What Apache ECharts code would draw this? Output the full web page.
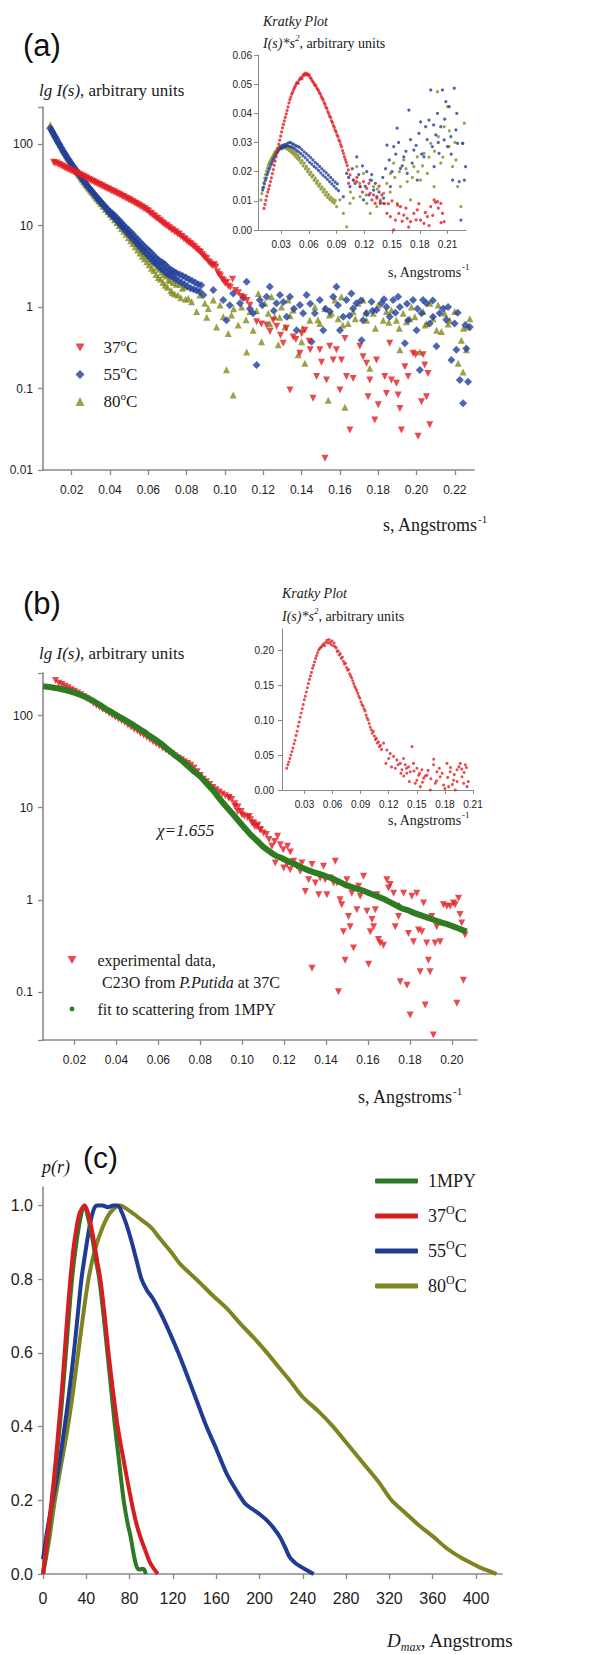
<!DOCTYPE html>
<html>
<head>
<meta charset="utf-8">
<script src="https://cdn.jsdelivr.net/npm/echarts@6/dist/echarts.min.js"></script>
<style>
  html, body { margin: 0; padding: 0; background: #fff; }
  #chart { width: 614px; height: 1654px; }
</style>
</head>
<body>
<div id="chart"></div>
<script>
// ---------- panel (a), main: lg I(s) vs s ----------
const a37 = [
  [0.0105,60],[0.0113,58],[0.0121,58.5],[0.0129,56.5],[0.0137,56],[0.0145,54],[0.0153,53.5],[0.0161,51.5],[0.0169,51],[0.0177,49.5],
  [0.0185,49],[0.0193,47.5],[0.0201,46.8],[0.0209,45.6],[0.0217,45],[0.0225,44],[0.0233,43.2],[0.0241,42],[0.0249,41.5],[0.0257,40.2],
  [0.0265,39.8],[0.0273,38.4],[0.0281,38],[0.0289,36.8],[0.0297,36.2],[0.0305,35.2],[0.0313,34.8],[0.0321,33.6],[0.0329,33.2],[0.0337,32.2],
  [0.0345,31.8],[0.0353,30.8],[0.0361,30.6],[0.0369,29.6],[0.0377,29.2],[0.0385,28.2],[0.0393,28],[0.0401,27.1],[0.0409,26.8],[0.0417,26],
  [0.0425,25.8],[0.0433,24.9],[0.0441,24.6],[0.0449,23.8],[0.0457,23.5],[0.0465,22.8],[0.0473,22.6],[0.0481,21.8],[0.0489,21.5],[0.0497,20.8],
  [0.0505,20.6],[0.0513,19.9],[0.0521,19.6],[0.0529,18.9],[0.0537,18.7],[0.0545,18],[0.0553,17.8],[0.0561,17],[0.0569,16.9],[0.0577,16.2],
  [0.0585,16],[0.0593,15.3],[0.0601,15],[0.0609,14.2],[0.0617,14],[0.0625,13.3],[0.0633,13],[0.0641,12.4],[0.0649,12.2],[0.0657,11.6],
  [0.0665,11.4],[0.0673,10.8],[0.0681,10.6],[0.0689,10.1],[0.0697,10],[0.0705,9.5],[0.0713,9.3],[0.0721,8.9],[0.0729,8.8],[0.0737,8.4],
  [0.0745,8.3],[0.0753,7.9],[0.0761,7.8],[0.0769,7.4],[0.0777,7.3],[0.0785,6.9],[0.0793,6.8],[0.0801,6.4],[0.0809,6.3],[0.0817,6.0],
  [0.0825,5.9],[0.0833,5.6],[0.0841,5.5],[0.0849,5.2],[0.0857,5.1],[0.0865,4.8],[0.0873,4.7],[0.0881,4.4],[0.0889,4.2],[0.0897,4.0],
  [0.0905,3.9],[0.0913,3.6],[0.0921,3.5],[0.0929,3.3],[0.0937,3.2],[0.0945,3.3],[0.0953,3.1],[0.0961,2.7],[0.0969,2.5],[0.0977,2.4],
  [0.0985,2.2],[0.0993,2.1],[0.1001,1.95],[0.1009,2.0],[0.1017,1.8],[0.1028,1.75],[0.104,2.2],[0.1055,1.6],[0.107,1.5],[0.1085,1.35],
  [0.110,1.3],[0.1115,1.2],[0.113,1.05],[0.1165,0.66],[0.119,0.62],[0.1217,0.6],[0.1235,0.5],[0.1252,0.69],[0.127,0.58],[0.129,0.45],
  [0.1304,0.36],[0.132,0.55],[0.1339,0.096],[0.1356,0.43],[0.137,0.4],[0.1391,0.27],[0.140,0.47],[0.1417,0.52],[0.144,0.38],[0.1445,0.3],
  [0.146,0.076],[0.1478,0.14],[0.1495,0.3],[0.1504,0.21],[0.1522,0.0139],[0.153,0.127],[0.1547,0.33],[0.1565,0.224],[0.1582,0.3],[0.16,0.096],
  [0.1608,0.224],[0.1626,0.41],[0.1634,0.14],[0.1652,0.031],[0.1669,0.133],[0.1704,0.33],[0.1721,0.246],[0.1739,0.204],[0.1747,0.079],[0.1756,0.127],
  [0.1782,0.041],[0.1791,0.224],[0.18,0.063],[0.1834,0.14],[0.1843,0.087],[0.186,0.36],[0.1869,0.127],[0.1895,0.116],[0.1904,0.083],[0.1913,0.057],
  [0.1921,0.031],[0.1939,0.185],[0.1956,0.14],[0.1982,0.27],[0.1995,0.26],[0.2008,0.026],[0.2026,0.069],[0.2034,0.26],[0.2043,0.194],[0.2052,0.079],
  [0.206,0.153],[0.2069,0.036]
];
const a55 = [
  [0.0088,156],[0.0094,148],[0.0100,140],[0.0106,131],[0.0112,124],[0.0118,117],[0.0124,110],[0.0130,104],[0.0136,99],[0.0142,93],
  [0.0148,88],[0.0154,83],[0.0160,79],[0.0166,75],[0.0172,71],[0.0178,67],[0.0184,64],[0.0190,61],[0.0196,58],[0.0202,55.5],
  [0.0208,53],[0.0214,51],[0.0220,48.5],[0.0226,46],[0.0232,44],[0.0238,42],[0.0244,40.5],[0.0250,38.5],[0.0256,37],[0.0262,35.5],
  [0.0268,34],[0.0274,32.5],[0.0280,31.2],[0.0286,30],[0.0292,28.6],[0.0298,27.6],[0.0304,26.5],[0.0310,25.4],[0.0316,24.5],[0.0322,23.5],
  [0.0328,22.7],[0.0334,21.7],[0.0340,21.2],[0.0346,20],[0.0352,19.6],[0.0358,18.5],[0.0364,18.3],[0.0370,17.2],[0.0376,17],[0.0382,15.8],
  [0.0388,15.9],[0.0394,14.6],[0.0400,14.9],[0.0406,13.6],[0.0412,14.1],[0.0418,12.8],[0.0424,13.3],[0.0430,11.9],[0.0436,12.4],[0.0442,11.2],
  [0.0448,11.6],[0.0454,10.2],[0.0460,10.8],[0.0466,9.5],[0.0472,10.1],[0.0478,8.8],[0.0484,9.4],[0.0490,8.2],[0.0496,8.9],[0.0502,7.6],
  [0.0508,8.3],[0.0514,7.1],[0.0520,7.8],[0.0526,6.6],[0.0532,7.2],[0.0538,6.1],[0.0544,6.8],[0.0550,5.7],[0.0556,6.3],[0.0562,5.3],
  [0.0568,5.9],[0.0574,4.9],[0.0580,5.5],[0.0586,4.6],[0.0592,5.2],[0.0598,4.3],[0.0604,4.9],[0.0610,4.0],[0.0616,4.6],[0.0622,3.7],
  [0.0628,4.3],[0.0634,3.5],[0.0640,4.0],[0.0646,3.3],[0.0652,3.8],[0.0658,3.1],[0.0664,3.6],[0.0670,2.9],[0.0676,3.5],[0.0682,2.8],
  [0.0688,3.3],[0.0694,2.6],[0.0700,3.1],[0.0706,2.5],[0.0712,2.9],[0.0718,2.4],[0.0724,2.8],[0.0730,2.3],[0.0736,2.7],[0.0742,2.2],
  [0.0748,2.6],[0.0756,2.1],[0.0764,2.5],[0.0772,2.0],[0.0780,2.4],[0.0788,1.9],[0.0796,2.3],[0.0804,1.8],[0.0812,2.2],[0.0820,1.7],
  [0.0828,2.1],[0.0836,1.65],[0.0844,2.0],[0.0852,1.6],[0.0860,1.9],[0.0868,1.55],[0.0876,1.85],
  [0.0887,1.40],[0.0939,1.62],[0.0991,1.22],[0.1008,0.69],[0.1025,1.05],[0.1043,1.47],[0.1078,1.11],[0.1095,1.3],[0.1113,2.05],[0.113,0.95],
  [0.1147,0.84],[0.1165,0.194],[0.1182,1.22],[0.1195,1.05],[0.1217,1.34],[0.1234,1.77],[0.1255,0.9],[0.1269,1.11],[0.1287,1.40],[0.1305,1.15],
  [0.1322,0.76],[0.1339,1.34],[0.136,0.95],[0.1374,0.52],[0.1391,1.06],[0.1408,0.84],[0.1426,1.40],[0.1445,1.1],[0.1452,0.376],[0.1469,0.84],
  [0.1495,1.22],[0.1513,0.52],[0.1525,0.95],[0.1547,0.88],[0.1565,1.34],[0.1582,1.77],[0.159,1.05],[0.16,0.52],[0.1617,0.76],[0.1634,1.22],
  [0.165,0.78],[0.166,1.47],[0.1669,0.96],[0.1686,1.11],[0.171,1.2],[0.1713,0.39],[0.1721,0.69],[0.1739,0.84],[0.1765,1.16],[0.177,0.9],
  [0.1791,0.92],[0.1817,1.11],[0.183,1.25],[0.1843,1.0],[0.186,0.76],[0.1878,1.22],[0.189,0.85],[0.1904,1.34],[0.1913,1.0],[0.1939,0.36],
  [0.195,1.1],[0.1956,0.69],[0.1982,1.22],[0.2,0.52],[0.2005,0.95],[0.2017,0.169],[0.2026,0.84],[0.2034,1.22],[0.2052,1.11],[0.2069,0.63],
  [0.2085,1.2],[0.2086,0.76],[0.2104,0.33],[0.2121,0.84],[0.2139,0.96],[0.2155,0.7],[0.2165,1.0],[0.2182,0.224],[0.2199,0.63],[0.2208,0.3],
  [0.2215,0.85],[0.2226,0.127],[0.2243,0.066],[0.2255,0.6],[0.226,0.31],[0.2269,0.121],[0.2278,0.57]
];
const a80 = [
  [0.0088,172],[0.0094,160],[0.0100,150],[0.0106,141],[0.0112,132],[0.0118,124],[0.0124,117],[0.0130,110],[0.0136,104],[0.0142,98],
  [0.0148,92],[0.0154,87],[0.0160,81],[0.0166,77],[0.0172,73],[0.0178,69],[0.0184,65],[0.0190,62],[0.0196,59],[0.0202,56],
  [0.0208,53],[0.0214,50.5],[0.0220,48.5],[0.0226,46],[0.0232,44],[0.0238,42],[0.0244,40.5],[0.0250,38],[0.0256,36.5],[0.0262,35],
  [0.0268,33.5],[0.0274,32],[0.0280,30.8],[0.0286,29.5],[0.0292,28.3],[0.0298,27.2],[0.0304,26],[0.0310,25],[0.0316,23.8],[0.0322,23],
  [0.0328,22],[0.0334,21.3],[0.0340,20.3],[0.0346,19.8],[0.0352,18.8],[0.0358,18.5],[0.0364,17.4],[0.0370,17.2],[0.0376,16],[0.0382,16],
  [0.0388,14.8],[0.0394,14.9],[0.0400,13.8],[0.0406,14],[0.0412,12.8],[0.0418,13],[0.0424,11.8],[0.0430,12.1],[0.0436,10.9],[0.0442,11.2],
  [0.0448,10],[0.0454,10.4],[0.0460,9.2],[0.0466,9.7],[0.0472,8.5],[0.0478,9.0],[0.0484,7.8],[0.0490,8.3],[0.0496,7.1],[0.0502,7.7],
  [0.0508,6.5],[0.0514,7.0],[0.0520,6.0],[0.0526,6.5],[0.0532,5.5],[0.0538,6.0],[0.0544,5.0],[0.0550,5.6],[0.0556,4.6],[0.0562,5.2],
  [0.0568,4.2],[0.0574,4.8],[0.0580,3.9],[0.0586,4.5],[0.0592,3.6],[0.0598,4.2],[0.0604,3.3],[0.0610,3.9],[0.0616,3.0],[0.0622,3.6],
  [0.0628,2.8],[0.0634,3.4],[0.0640,2.5],[0.0646,3.1],[0.0652,2.3],[0.0658,2.9],[0.0664,2.2],[0.0670,2.7],[0.0676,2.0],[0.0682,2.5],
  [0.0688,1.85],[0.0694,2.4],[0.0700,1.75],[0.0706,2.2],[0.0713,2.1],[0.0718,1.6],[0.0724,1.5],[0.0730,2.0],[0.0738,1.45],[0.0746,1.9],
  [0.0754,1.4],[0.0765,1.9],[0.0770,1.3],[0.0778,1.7],[0.0791,1.77],[0.0794,1.25],[0.0808,1.28],[0.0826,1.16],[0.0852,0.88],[0.0869,1.40],
  [0.0895,1.11],[0.0905,0.75],[0.0913,0.96],[0.0939,1.22],[0.0956,0.57],[0.0974,1.06],[0.0991,0.76],[0.1008,0.17],[0.1017,0.475],[0.1034,0.80],
  [0.1043,0.083],[0.1045,0.95],[0.1069,0.60],[0.1087,1.0],[0.111,0.7],[0.1113,0.28],[0.113,0.88],[0.1147,0.52],[0.1165,0.9],[0.1174,1.47],
  [0.1191,0.376],[0.1208,1.11],[0.1226,0.84],[0.1235,0.62],[0.1243,1.34],[0.126,0.76],[0.1278,0.345],[0.1285,0.75],[0.1295,1.0],[0.1313,0.57],
  [0.133,1.22],[0.134,0.78],[0.1356,0.92],[0.1382,0.26],[0.14,0.376],[0.1405,0.55],[0.1417,0.204],[0.1443,0.69],[0.1469,1.0],[0.1485,0.7],
  [0.1495,0.63],[0.1521,0.96],[0.1539,0.072],[0.1545,0.8],[0.1556,0.84],[0.1574,1.22],[0.1591,0.72],[0.1608,1.34],[0.1615,0.6],[0.1626,0.059],
  [0.1643,0.63],[0.1669,0.88],[0.168,0.72],[0.1695,1.11],[0.1721,1.22],[0.1735,0.85],[0.1739,0.69],[0.1756,0.177],[0.1774,0.84],[0.1785,0.55],
  [0.18,1.06],[0.1826,0.69],[0.1843,0.88],[0.1855,0.65],[0.1869,0.92],[0.1895,0.69],[0.191,0.55],[0.1913,0.3],[0.193,0.84],[0.1947,0.66],
  [0.1965,0.72],[0.1973,1.0],[0.1991,0.76],[0.2017,0.28],[0.2034,0.88],[0.2045,0.6],[0.2052,0.63],[0.2069,1.11],[0.2086,0.72],[0.2105,0.52],
  [0.2113,1.06],[0.213,0.5],[0.2147,0.84],[0.2165,0.62],[0.2173,0.69],[0.2199,0.88],[0.2217,0.204],[0.2234,0.39],[0.2243,0.16],[0.2245,0.55],
  [0.226,0.3],[0.2269,0.57],[0.2278,0.72]
];

// ---------- panel (a), inset: Kratky plot I(s)*s^2 ----------
const k37 = [
  [0.0115,0.0074],[0.0125,0.0088],[0.0135,0.0102],[0.0145,0.0116],[0.0155,0.013],[0.0165,0.014],[0.0175,0.0152],[0.0185,0.0166],[0.0195,0.0179],[0.0205,0.0193],
  [0.0215,0.0207],[0.0225,0.0222],[0.0235,0.0236],[0.0245,0.0251],[0.0255,0.0265],[0.0265,0.0279],[0.0275,0.0294],[0.0285,0.0308],[0.0295,0.0322],[0.0305,0.0336],
  [0.0315,0.035],[0.0325,0.0362],[0.0335,0.0374],[0.0345,0.0386],[0.0355,0.0398],[0.0365,0.041],[0.0375,0.0422],[0.0385,0.0436],[0.0395,0.0447],[0.0405,0.0456],
  [0.0415,0.0466],[0.0425,0.0472],[0.0435,0.0481],[0.0445,0.0488],[0.0455,0.0494],[0.0465,0.0502],[0.0475,0.0506],[0.0485,0.0503],[0.0495,0.0514],[0.0505,0.0518],
  [0.0515,0.0522],[0.0525,0.0519],[0.0535,0.0528],[0.0545,0.0534],[0.0555,0.0531],[0.0565,0.0538],[0.0575,0.0533],[0.0585,0.0535],[0.0595,0.053],[0.0605,0.0532],
  [0.0615,0.0522],[0.0625,0.052],[0.0635,0.0512],[0.0645,0.0508],[0.0655,0.0503],[0.0665,0.0496],[0.0675,0.0497],[0.0685,0.0488],[0.0695,0.0482],[0.0705,0.0478],
  [0.0715,0.047],[0.0725,0.0466],[0.0735,0.0457],[0.0745,0.0452],[0.0755,0.0446],[0.0765,0.0437],[0.0775,0.0431],[0.0785,0.0421],[0.0795,0.0416],[0.0805,0.0406],
  [0.0815,0.0399],[0.0825,0.039],[0.0835,0.0385],[0.0845,0.0374],[0.0855,0.0368],[0.0865,0.0358],[0.0875,0.0352],[0.0885,0.0342],[0.0895,0.0336],[0.0905,0.0326],
  [0.0915,0.032],[0.0925,0.0309],[0.0935,0.0303],[0.0945,0.0293],[0.0955,0.0285],[0.0965,0.0272],[0.0975,0.0262],[0.0985,0.0251],[0.0995,0.0241],[0.1005,0.0232],
  [0.1015,0.0221],[0.1027,0.0206],[0.103,0.016],[0.1045,0.0189],[0.1082,0.0171],[0.1118,0.0166],[0.112,0.018],[0.1155,0.0149],[0.118,0.013],[0.1191,0.0166],
  [0.1227,0.0143],[0.125,0.016],[0.1264,0.0126],[0.1282,0.0103],[0.13,0.012],[0.1318,0.0091],[0.1336,0.0109],[0.136,0.015],[0.1373,0.0097],[0.139,0.012],
  [0.1409,0.0091],[0.1445,0.0057],[0.146,0.009],[0.1482,0.0046],[0.15,0.01],[0.1518,0.0],[0.1536,0.0034],[0.156,0.0085],[0.1573,0.0057],[0.1591,0.008],
  [0.161,0.003],[0.1627,0.0051],[0.165,0.0075],[0.1664,0.004],[0.168,0.001],[0.17,0.0029],[0.1736,0.0057],[0.176,0.0035],[0.1773,0.0069],[0.179,0.009],
  [0.1809,0.0034],[0.1845,0.0023],[0.186,0.006],[0.1882,0.0046],[0.19,0.0015],[0.1918,0.008],[0.194,0.005],[0.1955,0.0103],[0.197,0.0095],[0.1991,0.0097],
  [0.2,0.0075],[0.2027,0.0091],[0.203,0.0025],[0.2045,0.0057],[0.2064,0.0029]
];
const k55 = [
  [0.0100,0.0137],[0.0110,0.0146],[0.0120,0.0158],[0.0130,0.017],[0.0140,0.0178],[0.0150,0.019],[0.0160,0.0198],[0.0170,0.0208],[0.0180,0.0215],[0.0190,0.0224],
  [0.0200,0.023],[0.0210,0.0238],[0.0220,0.0244],[0.0230,0.0251],[0.0240,0.0256],[0.0250,0.0263],[0.0260,0.0267],[0.0270,0.0272],[0.0280,0.0276],[0.0290,0.0281],
  [0.0300,0.0284],[0.0310,0.0279],[0.0320,0.0289],[0.0330,0.0284],[0.0340,0.0293],[0.0350,0.0287],[0.0360,0.0295],[0.0370,0.0288],[0.0380,0.0299],[0.0390,0.0287],
  [0.0400,0.03],[0.0410,0.0285],[0.0420,0.0296],[0.0430,0.0282],[0.0440,0.0293],[0.0450,0.0278],[0.0460,0.0289],[0.0470,0.0272],[0.0480,0.0286],[0.0490,0.0268],
  [0.0500,0.0283],[0.0512,0.0262],[0.0524,0.0276],[0.0536,0.0255],[0.0548,0.0268],[0.0560,0.0248],[0.0572,0.0262],[0.0584,0.024],[0.0596,0.0255],[0.0608,0.0232],
  [0.0620,0.0248],[0.0632,0.0226],[0.0644,0.024],[0.0656,0.0218],[0.0668,0.0232],[0.0680,0.0212],[0.0692,0.0226],[0.0704,0.0204],[0.0716,0.0218],[0.0728,0.0196],
  [0.0740,0.021],[0.0752,0.0188],[0.0764,0.0203],[0.0776,0.0181],[0.0788,0.0196],[0.0800,0.0174],[0.0812,0.0188],[0.0824,0.0166],[0.0836,0.018],[0.0848,0.0158],
  [0.0860,0.0172],[0.0872,0.015],[0.0884,0.0164],[0.0896,0.0142],[0.0908,0.0158],[0.0920,0.0135],[0.0973,0.0114],[0.1009,0.0194],[0.103,0.018],[0.1045,0.0149],
  [0.107,0.021],[0.1082,0.0171],[0.11,0.016],[0.1118,0.0251],[0.114,0.019],[0.1155,0.0149],[0.118,0.022],[0.1191,0.0103],[0.121,0.015],[0.1227,0.02],
  [0.125,0.012],[0.1264,0.0171],[0.128,0.019],[0.13,0.0137],[0.132,0.016],[0.1336,0.0114],[0.136,0.013],[0.1373,0.0091],[0.14,0.018],[0.1409,0.0109],
  [0.143,0.021],[0.1445,0.0291],[0.147,0.024],[0.1482,0.0149],[0.15,0.02],[0.1518,0.0286],[0.154,0.026],[0.1555,0.0349],[0.157,0.03],[0.1591,0.0211],
  [0.161,0.022],[0.1627,0.0251],[0.165,0.027],[0.1664,0.0194],[0.1682,0.0411],[0.17,0.031],[0.1718,0.0229],[0.1736,0.0274],[0.176,0.029],[0.1773,0.0171],
  [0.1791,0.0331],[0.1809,0.0371],[0.182,0.026],[0.1845,0.0251],[0.1864,0.0354],[0.188,0.031],[0.19,0.0377],[0.1918,0.048],[0.1936,0.0286],[0.195,0.036],
  [0.1955,0.0217],[0.1973,0.0326],[0.1991,0.04],[0.2,0.03],[0.2009,0.0263],[0.2027,0.0354],[0.2045,0.048],[0.2064,0.0309],[0.207,0.038],[0.2082,0.044],
  [0.21,0.0286],[0.2118,0.0423],[0.2136,0.032],[0.214,0.026],[0.2155,0.0171],[0.2173,0.0486],[0.2191,0.0343],[0.22,0.04],[0.2209,0.0297],[0.2227,0.0166],
  [0.2245,0.0034],[0.2264,0.0297],[0.2282,0.0171],[0.2295,0.0217]
];
const k80 = [
  [0.0082,0.0103],[0.0092,0.0125],[0.0102,0.0145],[0.0112,0.0162],[0.0122,0.0178],[0.0132,0.019],[0.0142,0.0202],[0.0152,0.0212],[0.0162,0.0222],[0.0172,0.023],
  [0.0182,0.0236],[0.0192,0.0243],[0.0202,0.0248],[0.0212,0.0254],[0.0222,0.026],[0.0232,0.0266],[0.0242,0.027],[0.0252,0.0274],[0.0262,0.0279],[0.0272,0.0282],
  [0.0282,0.0286],[0.0292,0.0283],[0.0302,0.0289],[0.0312,0.0284],[0.0322,0.0291],[0.0332,0.0283],[0.0342,0.029],[0.0352,0.028],[0.0362,0.0288],[0.0372,0.0276],
  [0.0382,0.0284],[0.0392,0.0271],[0.0402,0.028],[0.0412,0.0266],[0.0422,0.0274],[0.0432,0.026],[0.0442,0.0268],[0.0452,0.0253],[0.0462,0.0262],[0.0472,0.0246],
  [0.0482,0.0255],[0.0492,0.024],[0.0502,0.0248],[0.0514,0.023],[0.0526,0.0238],[0.0538,0.022],[0.0550,0.0229],[0.0562,0.021],[0.0574,0.0218],[0.0586,0.02],
  [0.0598,0.0209],[0.0610,0.019],[0.0622,0.0198],[0.0634,0.0181],[0.0646,0.0188],[0.0658,0.017],[0.0670,0.0178],[0.0682,0.016],[0.0694,0.0168],[0.0706,0.015],
  [0.0718,0.0158],[0.0730,0.014],[0.0742,0.0148],[0.0754,0.013],[0.0766,0.0139],[0.0778,0.012],[0.0790,0.013],[0.0802,0.0112],[0.0814,0.0121],[0.0826,0.0105],
  [0.0838,0.0113],[0.0850,0.0098],[0.0862,0.0106],[0.0874,0.0092],[0.0886,0.0101],[0.09,0.008],[0.0936,0.0103],[0.0973,0.0057],[0.1009,0.0011],[0.1045,0.0091],
  [0.105,0.013],[0.1082,0.0109],[0.1118,0.0217],[0.115,0.016],[0.1155,0.0114],[0.1191,0.0194],[0.122,0.012],[0.1227,0.0091],[0.1264,0.0057],[0.128,0.017],
  [0.13,0.0149],[0.1336,0.008],[0.134,0.014],[0.1373,0.0103],[0.1409,0.0126],[0.142,0.009],[0.1445,0.016],[0.148,0.013],[0.1482,0.0194],[0.1518,0.0229],
  [0.153,0.018],[0.1555,0.0091],[0.158,0.02],[0.1591,0.0149],[0.1627,0.024],[0.165,0.021],[0.1664,0.0166],[0.17,0.0103],[0.172,0.018],[0.1736,0.0217],
  [0.1773,0.0251],[0.178,0.02],[0.1809,0.0171],[0.183,0.022],[0.1845,0.0263],[0.1882,0.0194],[0.19,0.025],[0.1918,0.0297],[0.1955,0.0149],[0.196,0.027],
  [0.1991,0.0474],[0.2,0.032],[0.2027,0.0229],[0.205,0.025],[0.2064,0.0354],[0.21,0.0423],[0.2118,0.0286],[0.212,0.034],[0.2155,0.0217],[0.218,0.03],
  [0.2191,0.024],[0.2209,0.0149],[0.2245,0.008],[0.2264,0.0297],[0.2282,0.0366]
];

// ---------- panel (b), main ----------
const b37 = [
  [0.0110,240],[0.0125,224],[0.0140,217],[0.0155,208],[0.0170,200],[0.0185,191],[0.0200,184],[0.0215,176],[0.0230,168],[0.0245,160],
  [0.0260,152],[0.0275,145],[0.0290,136],[0.0305,129],[0.0320,123],[0.0335,117],[0.0350,112],[0.0365,106],[0.0380,101],[0.0395,96],
  [0.0410,92],[0.0425,88],[0.0440,84],[0.0455,79],[0.0470,75],[0.0485,71],[0.0500,68],[0.0515,64],[0.0530,61],[0.0545,58],
  [0.0560,55],[0.0575,52],[0.0590,49.5],[0.0605,47],[0.0620,44.5],[0.0635,42.5],[0.0650,40.5],[0.0665,38.4],[0.0680,36.3],[0.0695,34.7],
  [0.0710,33.1],[0.0725,31.6],[0.0740,30.2],[0.0755,28.8],[0.0770,26.9],[0.0785,24.5],[0.0800,22.4],[0.0815,20.4],[0.0830,19.1],[0.0845,17.8],
  [0.0860,16.6],[0.0875,15.7],[0.0890,14.8],[0.0905,14.1],[0.0920,13.5],[0.0935,12.9],[0.0938,12.7],[0.0950,12.3],[0.0965,11],[0.0966,10.3],
  [0.0979,9.1],[0.0980,10.2],[0.0995,9.1],[0.0999,8.4],[0.1010,8.1],[0.1025,7.8],[0.1033,8.0],[0.1040,7.4],[0.1047,6.8],[0.1055,6.8],
  [0.106,6.25],[0.1070,6.2],[0.1074,6.5],[0.1085,5.75],[0.1088,5.75],[0.1101,5.3],[0.1115,5.1],[0.1128,4.5],[0.1142,3.8],[0.1155,4.3],
  [0.1158,2.51],[0.1169,4.9],[0.1182,3.95],[0.1196,3.5],[0.1198,2.21],[0.1214,2.41],[0.1216,3.8],[0.1229,2.12],[0.123,3.3],[0.1245,2.62],
  [0.1261,2.31],[0.1277,2.04],[0.1285,2.51],[0.1301,1.23],[0.1317,1.65],[0.1333,2.41],[0.1333,0.18],[0.1349,1.52],[0.1365,1.13],[0.1372,1.72],
  [0.1388,2.31],[0.1396,1.65],[0.1404,1.13],[0.142,1.72],[0.1436,1.52],[0.1444,2.62],[0.1452,1.52],[0.1459,0.1],[0.1467,1.0],[0.1475,0.88],
  [0.1483,0.45],[0.1491,0.22],[0.1499,1.65],[0.1507,0.66],[0.1515,0.51],[0.1523,1.18],[0.1531,0.3],[0.1547,0.78],[0.1555,1.4],[0.1563,1.09],
  [0.1579,1.8],[0.1595,0.75],[0.1603,0.2],[0.1611,0.45],[0.1619,0.61],[0.1627,0.51],[0.1635,0.78],[0.1642,1.13],[0.165,0.37],[0.1658,0.34],
  [0.1674,0.32],[0.169,1.65],[0.1698,1.34],[0.1706,1.46],[0.1722,1.18],[0.173,0.51],[0.1738,0.85],[0.1746,0.66],[0.1754,0.129],[0.177,1.18],
  [0.1786,0.118],[0.1793,0.43],[0.1801,0.056],[0.1809,1.09],[0.1817,0.35],[0.1833,1.18],[0.1841,0.47],[0.1849,0.165],[0.1857,0.45],[0.1865,0.92],
  [0.1873,0.072],[0.188,0.34],[0.1888,0.22],[0.1896,0.165],[0.1904,0.66],[0.1912,0.034],[0.192,0.34],[0.1928,0.51],[0.1944,0.35],[0.196,0.88],
  [0.1976,0.85],[0.1992,0.85],[0.2008,0.92],[0.2016,0.88],[0.2024,0.075],[0.2032,1.04],[0.2039,0.69],[0.2047,0.56],[0.2055,0.134],[0.2063,0.415]
];
const bFit = [
  [0.005,208],[0.008,204],[0.011,199],[0.014,193],[0.017,186],[0.020,177],[0.023,167],[0.026,156],[0.029,144],[0.032,131],
  [0.035,118],[0.038,108],[0.041,98],[0.044,90],[0.047,82],[0.050,74],[0.053,67],[0.056,60],[0.059,54],[0.062,48],
  [0.065,42],[0.068,37],[0.071,32.7],[0.074,28.5],[0.077,24.8],[0.080,21.9],[0.083,18.4],[0.086,15.5],[0.089,12.7],[0.092,10.5],
  [0.095,8.8],[0.098,7.3],[0.101,6.1],[0.104,5.1],[0.107,4.4],[0.110,3.76],[0.113,3.35],[0.116,3.02],[0.119,2.82],[0.122,2.62],
  [0.125,2.44],[0.128,2.26],[0.131,2.11],[0.134,2.0],[0.137,1.9],[0.140,1.8],[0.143,1.7],[0.146,1.58],[0.149,1.46],[0.152,1.38],
  [0.155,1.31],[0.158,1.25],[0.161,1.17],[0.164,1.1],[0.167,1.03],[0.170,0.955],[0.173,0.88],[0.176,0.81],[0.179,0.77],[0.182,0.72],
  [0.185,0.68],[0.188,0.645],[0.191,0.61],[0.194,0.575],[0.197,0.55],[0.200,0.52],[0.203,0.49],[0.206,0.46],[0.207,0.45]
];

// ---------- panel (b), inset ----------
const kb37 = [
  [0.0111,0.031],[0.0122,0.036],[0.0133,0.04],[0.0144,0.045],[0.0155,0.05],[0.0166,0.055],[0.0177,0.06],[0.0188,0.066],[0.0199,0.071],[0.021,0.078],
  [0.0221,0.084],[0.0232,0.091],[0.0243,0.097],[0.0254,0.104],[0.0265,0.11],[0.0276,0.116],[0.0287,0.122],[0.0298,0.129],[0.0309,0.134],[0.032,0.14],
  [0.0331,0.146],[0.0342,0.152],[0.0353,0.158],[0.0364,0.163],[0.0375,0.168],[0.0386,0.174],[0.0397,0.178],[0.0408,0.183],[0.0419,0.188],[0.043,0.192],
  [0.0441,0.196],[0.0452,0.2],[0.0463,0.202],[0.0474,0.204],[0.0485,0.205],[0.0496,0.207],[0.0507,0.209],[0.0518,0.206],[0.0529,0.211],[0.054,0.214],
  [0.0551,0.21],[0.0562,0.215],[0.0573,0.211],[0.0584,0.208],[0.0595,0.213],[0.0606,0.206],[0.0617,0.21],[0.0628,0.205],[0.0639,0.203],[0.065,0.198],
  [0.0661,0.199],[0.0672,0.193],[0.0683,0.195],[0.0694,0.188],[0.0705,0.19],[0.0716,0.184],[0.0727,0.18],[0.0738,0.181],[0.0749,0.175],[0.076,0.171],
  [0.0771,0.172],[0.0782,0.166],[0.0793,0.163],[0.0804,0.16],[0.0815,0.156],[0.0826,0.152],[0.0837,0.148],[0.0848,0.145],[0.0859,0.142],[0.087,0.138],
  [0.0881,0.134],[0.0892,0.131],[0.0903,0.126],[0.0914,0.122],[0.0925,0.12],[0.0936,0.116],[0.0947,0.113],[0.0958,0.107],[0.0969,0.103],[0.098,0.1],
  [0.0991,0.095],[0.1002,0.09],[0.1013,0.086],[0.1024,0.081],[0.1035,0.084],[0.1046,0.077],[0.1057,0.072],[0.1068,0.074],[0.1079,0.067],[0.109,0.069],
  [0.1101,0.062],[0.1112,0.064],[0.1123,0.058],[0.1145,0.067],[0.117,0.038],[0.118,0.057],[0.12,0.045],[0.1216,0.052],[0.123,0.033],[0.1252,0.048],
  [0.127,0.031],[0.1287,0.043],[0.13,0.036],[0.1323,0.038],[0.133,0.024],[0.1341,0.029],[0.1358,0.045],[0.136,0.02],[0.1376,0.036],[0.139,0.031],
  [0.1394,0.024],[0.1412,0.033],[0.142,0.012],[0.143,0.026],[0.1448,0.062],[0.1465,0.038],[0.147,0.027],[0.1483,0.0095],[0.15,0.014],[0.1501,0.031],
  [0.1519,0.021],[0.153,0.024],[0.1537,0.0048],[0.1554,0.029],[0.156,0.011],[0.1572,0.017],[0.159,0.02],[0.1608,0.021],[0.162,0.028],[0.1644,0.0],
  [0.165,0.016],[0.168,0.044],[0.1679,0.036],[0.1697,0.0095],[0.171,0.013],[0.1715,0.026],[0.174,0.031],[0.175,0.019],[0.177,0.024],[0.1786,0.007],
  [0.18,0.002],[0.1822,0.038],[0.183,0.018],[0.184,0.0048],[0.1857,0.026],[0.186,0.032],[0.188,0.008],[0.1893,0.014],[0.19,0.022],[0.1911,0.0],
  [0.1929,0.029],[0.193,0.012],[0.195,0.033],[0.1964,0.038],[0.198,0.03],[0.1982,0.019],[0.2,0.0095],[0.2005,0.025],[0.2018,0.036],[0.203,0.032],
  [0.2036,0.0048],[0.205,0.012]
];

// ---------- panel (c): p(r) ----------
const p1mpy = [[0,0],[4,0.08],[8.5,0.2],[12,0.3],[15.5,0.4],[19,0.52],[22,0.63],[25,0.74],[27.5,0.82],[30,0.88],[33,0.94],[36,0.985],[38.5,1.0],
  [41,0.975],[45,0.92],[49,0.85],[52,0.8],[56,0.7],[59.5,0.6],[63,0.5],[66.5,0.4],[70.5,0.3],[74.5,0.2],[78,0.14],[81,0.1],[84,0.05],[86.5,0.02],[89,0.012],[92,0.014],[93.5,0.012],[95,0]];
const p37 = [[0,0],[4,0.1],[8,0.2],[11.5,0.3],[14.5,0.4],[17.5,0.5],[20,0.6],[22.5,0.7],[25,0.79],[28,0.88],[31,0.94],[34,0.98],[38.5,1.0],
  [42,0.975],[46,0.92],[50,0.85],[53,0.8],[57,0.7],[60.5,0.6],[64.5,0.5],[69,0.4],[75,0.3],[81.5,0.2],[86,0.14],[90,0.1],[95,0.06],[99,0.03],[103,0.012],[106,0]];
const p55 = [[0,0.04],[4,0.12],[9,0.2],[15,0.3],[20,0.4],[24.5,0.5],[28.5,0.6],[32,0.7],[35.5,0.8],[39.5,0.88],[43.5,0.95],[47,0.99],[50,1.0],[55,1.0],[60,0.995],[65,1.0],[69,1.0],
  [73,0.98],[78,0.94],[82,0.9],[86.5,0.85],[91,0.8],[96,0.77],[102,0.745],[110,0.7],[117,0.655],[125,0.6],[133,0.54],[142,0.47],[151,0.4],[160,0.34],[170,0.27],[180,0.22],[187,0.19],
  [194,0.175],[201,0.16],[207,0.145],[213,0.125],[219,0.1],[224,0.07],[228,0.045],[233,0.03],[238,0.02],[244,0.01],[250,0]];
const p80 = [[0,0],[5,0.08],[11,0.2],[17,0.3],[23,0.4],[28,0.5],[32.5,0.6],[37,0.7],[42,0.8],[48,0.88],[55,0.94],[62,0.98],[71,1.0],
  [80,0.985],[90,0.963],[100,0.94],[108,0.91],[118,0.875],[127,0.84],[136,0.815],[145,0.79],[157,0.755],[170,0.72],[182,0.68],[195,0.64],[207,0.6],[218,0.56],[228,0.525],
  [240,0.48],[255,0.44],[268,0.4],[282,0.35],[296,0.3],[310,0.25],[322,0.2],[335,0.165],[348,0.13],[361,0.1],[372,0.072],[383,0.05],[392,0.035],[402,0.02],[411,0.009],[419,0]];

// ---------- tick values ----------
const ticksAX = [0.02,0.04,0.06,0.08,0.10,0.12,0.14,0.16,0.18,0.20,0.22];
const ticksKX = [0.03,0.06,0.09,0.12,0.15,0.18,0.21];
const ticksKY = [0,0.01,0.02,0.03,0.04,0.05,0.06];
const ticksBX = [0.02,0.04,0.06,0.08,0.10,0.12,0.14,0.16,0.18,0.20];
const ticksKBY = [0,0.05,0.10,0.15,0.20];
const ticksCX = [0,40,80,120,160,200,240,280,320,360,400];
const ticksCY = [0,0.2,0.4,0.6,0.8,1.0];

// ---------- styling ----------
const RED = '#e31d23', BLUE = '#22409b', OLIVE = '#838b1b', GREEN = '#2f7b22';
const C_GREEN = '#2e7a24', C_RED = '#d61e22', C_BLUE = '#1f3b95', C_OLIVE = '#7f8421';
const DOWN = 'path://M0,0L10,0L5,9Z';
const DOT = 'path://M0,0L0,0M10,10L10,10M5,2.3A2.7,2.7,0,1,1,5,7.7A2.7,2.7,0,1,1,5,2.3Z';
const SANS = 'Liberation Sans', SERIF = 'Liberation Serif';
const AXC = '#8a8a8a';

const chart = echarts.init(document.getElementById('chart'), null, { renderer: 'svg' });

function ax(gridIndex, type, min, max, size, margin, fmt, ticks, big) {
  const a = {
    gridIndex: gridIndex, type: type, min: min, max: max,
    splitLine: { show: false },
    axisLine: { onZero: false, lineStyle: { color: AXC, width: big ? 1.6 : 1 } },
    axisTick: { length: big ? 5 : 4, lineStyle: { color: AXC, width: big ? 1.3 : 1 } },
    axisLabel: { fontFamily: SANS, fontSize: size, color: '#1c1c1c', margin: margin, formatter: fmt }
  };
  if (type === 'log') a.logBase = 10;
  if (ticks) {
    a.axisLabel.customValues = ticks;
    a.axisTick.customValues = ticks;
  }
  return a;
}
const f2 = v => Number(v).toFixed(2);
const f1 = v => Number(v).toFixed(1);
const f0 = v => String(Math.round(v));
const fLog = v => {
  const e = Math.log10(v);
  return Math.abs(e - Math.round(e)) < 1e-6 ? String(+Number(v).toPrecision(2)) : '';
};

function rich(size, supSize) {
  return {
    n: { fontFamily: SERIF, fontSize: size, lineHeight: size + 6, fill: '#1a1a1a', color: '#1a1a1a', verticalAlign: 'middle' },
    i: { fontFamily: SERIF, fontStyle: 'italic', fontSize: size, lineHeight: size + 6, fill: '#1a1a1a', color: '#1a1a1a', verticalAlign: 'middle' },
    s: { fontFamily: SERIF, fontSize: supSize, lineHeight: supSize, fill: '#1a1a1a', color: '#1a1a1a', verticalAlign: 'top' },
    si: { fontFamily: SERIF, fontStyle: 'italic', fontSize: supSize, lineHeight: supSize, fill: '#1a1a1a', color: '#1a1a1a', verticalAlign: 'top' },
    d: { fontFamily: SERIF, fontStyle: 'italic', fontSize: supSize, lineHeight: supSize, fill: '#1a1a1a', color: '#1a1a1a', verticalAlign: 'bottom' }
  };
}
function txt(x, y, text, size, supSize) {
  return {
    type: 'text', x: x, y: y, silent: true,
    style: {
      text: text, fontFamily: SERIF, fontSize: size, fill: '#1a1a1a',
      align: 'left', verticalAlign: 'middle', rich: rich(size, supSize)
    }
  };
}
function plain(x, y, text, size) {
  return {
    type: 'text', x: x, y: y, silent: true,
    style: { text: text, fontFamily: SANS, fontSize: size, fill: '#111', align: 'left', verticalAlign: 'middle' }
  };
}

const LBL = {
  a37: '{n|37}{s|o}{n|C}', a55: '{n|55}{s|o}{n|C}', a80: '{n|80}{s|o}{n|C}',
  b37: '{n|experimental data,}', bFit: '{n|fit to scattering from 1MPY}',
  c1mpy: '{n|1MPY}', c37: '{n|37}{s|O}{n|C}', c55: '{n|55}{s|O}{n|C}', c80: '{n|80}{s|O}{n|C}'
};

const option = {
  animation: false,
  backgroundColor: '#fff',
  grid: [
    { left: 43, top: 107, width: 431, height: 363, outerBoundsMode: 'none' },
    { left: 258, top: 55, width: 208, height: 175, outerBoundsMode: 'none' },
    { left: 43, top: 673, width: 434, height: 367, outerBoundsMode: 'none' },
    { left: 282, top: 629, width: 191, height: 161, outerBoundsMode: 'none' },
    { left: 43, top: 1187, width: 459, height: 387, outerBoundsMode: 'none' }
  ],
  xAxis: [
    ax(0, 'value', 0.005, 0.23, 12, 14, f2, ticksAX, true),
    ax(1, 'value', 0.005, 0.23, 10, 9, f2, ticksKX, false),
    ax(2, 'value', 0.005, 0.212, 12, 14, f2, ticksBX, true),
    ax(3, 'value', 0.006, 0.21, 10, 9, f2, ticksKX, false),
    ax(4, 'value', 0, 424, 16, 16, f0, ticksCX, true)
  ],
  yAxis: [
    ax(0, 'log', 0.01, 285, 12, 10, fLog, null, true),
    ax(1, 'value', 0, 0.06, 10, 6, f2, ticksKY, false),
    ax(2, 'log', 0.03, 290, 12, 10, fLog, null, true),
    ax(3, 'value', 0, 0.23, 10, 8, f2, ticksKBY, false),
    ax(4, 'value', 0, 1.05, 16, 10, f1, ticksCY, true)
  ],
  legend: [
    {
      data: [{ name: 'a37', icon: DOWN }, { name: 'a55', icon: 'diamond' }, { name: 'a80', icon: 'triangle' }],
      orient: 'vertical', left: 75.5, top: 336, padding: 0, itemWidth: 9, itemHeight: 9, itemGap: 4,
      selectedMode: false, formatter: n => LBL[n],
      textStyle: { fontFamily: SERIF, fontSize: 17, lineHeight: 22, color: '#1a1a1a', padding: [0, 0, 0, 14], rich: rich(17, 11) }
    },
    {
      data: [{ name: 'b37', icon: DOWN }, { name: 'bFit', icon: DOT }],
      orient: 'vertical', left: 67.5, top: 949, padding: 0, itemWidth: 9, itemHeight: 9, itemGap: 27,
      selectedMode: false, formatter: n => LBL[n],
      textStyle: { fontFamily: SERIF, fontSize: 16, lineHeight: 20, color: '#1a1a1a', padding: [0, 0, 0, 16], rich: rich(16, 10) }
    },
    {
      data: ['c1mpy', 'c37', 'c55', 'c80'], icon: 'roundRect',
      orient: 'vertical', left: 375, top: 1169, padding: 0, itemWidth: 43, itemHeight: 5, itemGap: 11,
      selectedMode: false, formatter: n => LBL[n],
      textStyle: { fontFamily: SERIF, fontSize: 18, lineHeight: 22, color: '#1a1a1a', padding: [0, 0, 0, 5], rich: rich(18, 12) }
    }
  ],
  series: [
    // (a) main
    { type: 'scatter', name: 'a80', xAxisIndex: 0, yAxisIndex: 0, data: a80, symbol: 'triangle', symbolSize: 7, itemStyle: { color: OLIVE } },
    { type: 'scatter', name: 'a55', xAxisIndex: 0, yAxisIndex: 0, data: a55, symbol: 'diamond', symbolSize: 8, itemStyle: { color: BLUE } },
    { type: 'scatter', name: 'a37', xAxisIndex: 0, yAxisIndex: 0, data: a37, symbol: DOWN, symbolSize: 7, itemStyle: { color: RED } },
    // (a) inset
    { type: 'scatter', name: 'k80', xAxisIndex: 1, yAxisIndex: 1, data: k80, symbol: 'circle', symbolSize: 3.2, itemStyle: { color: OLIVE } },
    { type: 'scatter', name: 'k55', xAxisIndex: 1, yAxisIndex: 1, data: k55, symbol: 'circle', symbolSize: 3.2, itemStyle: { color: BLUE } },
    { type: 'scatter', name: 'k37', xAxisIndex: 1, yAxisIndex: 1, data: k37, symbol: 'circle', symbolSize: 3.2, itemStyle: { color: RED } },
    // (b) main
    { type: 'scatter', name: 'b37', xAxisIndex: 2, yAxisIndex: 2, data: b37, symbol: DOWN, symbolSize: 7, itemStyle: { color: RED } },
    { type: 'line', name: 'bFit', xAxisIndex: 2, yAxisIndex: 2, data: bFit, showSymbol: false, smooth: 0.3,
      lineStyle: { color: GREEN, width: 6 }, itemStyle: { color: GREEN } },
    // (b) inset
    { type: 'scatter', name: 'kb37', xAxisIndex: 3, yAxisIndex: 3, data: kb37, symbol: 'circle', symbolSize: 3, itemStyle: { color: RED } },
    // (c)
    { type: 'line', name: 'c80', xAxisIndex: 4, yAxisIndex: 4, data: p80, showSymbol: false, smooth: 0.3, lineStyle: { color: C_OLIVE, width: 4 }, itemStyle: { color: C_OLIVE } },
    { type: 'line', name: 'c55', xAxisIndex: 4, yAxisIndex: 4, data: p55, showSymbol: false, smooth: 0.3, lineStyle: { color: C_BLUE, width: 4 }, itemStyle: { color: C_BLUE } },
    { type: 'line', name: 'c1mpy', xAxisIndex: 4, yAxisIndex: 4, data: p1mpy, showSymbol: false, smooth: 0.3, lineStyle: { color: C_GREEN, width: 4 }, itemStyle: { color: C_GREEN } },
    { type: 'line', name: 'c37', xAxisIndex: 4, yAxisIndex: 4, data: p37, showSymbol: false, smooth: 0.3, lineStyle: { color: C_RED, width: 4 }, itemStyle: { color: C_RED } }
  ],
  graphic: {
    elements: [
      // (a)
      plain(23, 45, '(a)', 31),
      txt(39, 90, '{i|lg I(s)}{n|, arbitrary units}', 17, 11),
      txt(383, 525, '{n|s, Angstroms}{s|-1}', 18, 11),
      txt(263, 21, '{i|Kratky Plot}', 14, 9),
      txt(263, 43, '{i|I(s)*s}{si|2}{n|, arbitrary units}', 14, 9),
      txt(388, 272, '{n|s, Angstroms}{s|-1}', 14, 9),
      // (b)
      plain(23, 603, '(b)', 31),
      txt(39, 653, '{i|lg I(s)}{n|, arbitrary units}', 17, 11),
      txt(282, 593, '{i|Kratky Plot}', 14, 9),
      txt(282, 616, '{i|I(s)*s}{si|2}{n|, arbitrary units}', 14, 9),
      txt(388, 820, '{n|s, Angstroms}{s|-1}', 14, 9),
      txt(157, 830, '{i|\u03c7=1.655}', 17, 11),
      txt(102, 982, '{n|C23O from }{i|P.Putida}{n| at 37C}', 16, 10),
      txt(358, 1097, '{n|s, Angstroms}{s|-1}', 18, 11),
      // (c)
      plain(83, 1157, '(c)', 30),
      txt(42, 1167, '{i|p(r)}', 18, 11),
      txt(387, 1640, '{i|D}{d|max}{n|, Angstroms}', 19, 12)
    ]
  }
};
chart.setOption(option);
</script>
</body>
</html>
